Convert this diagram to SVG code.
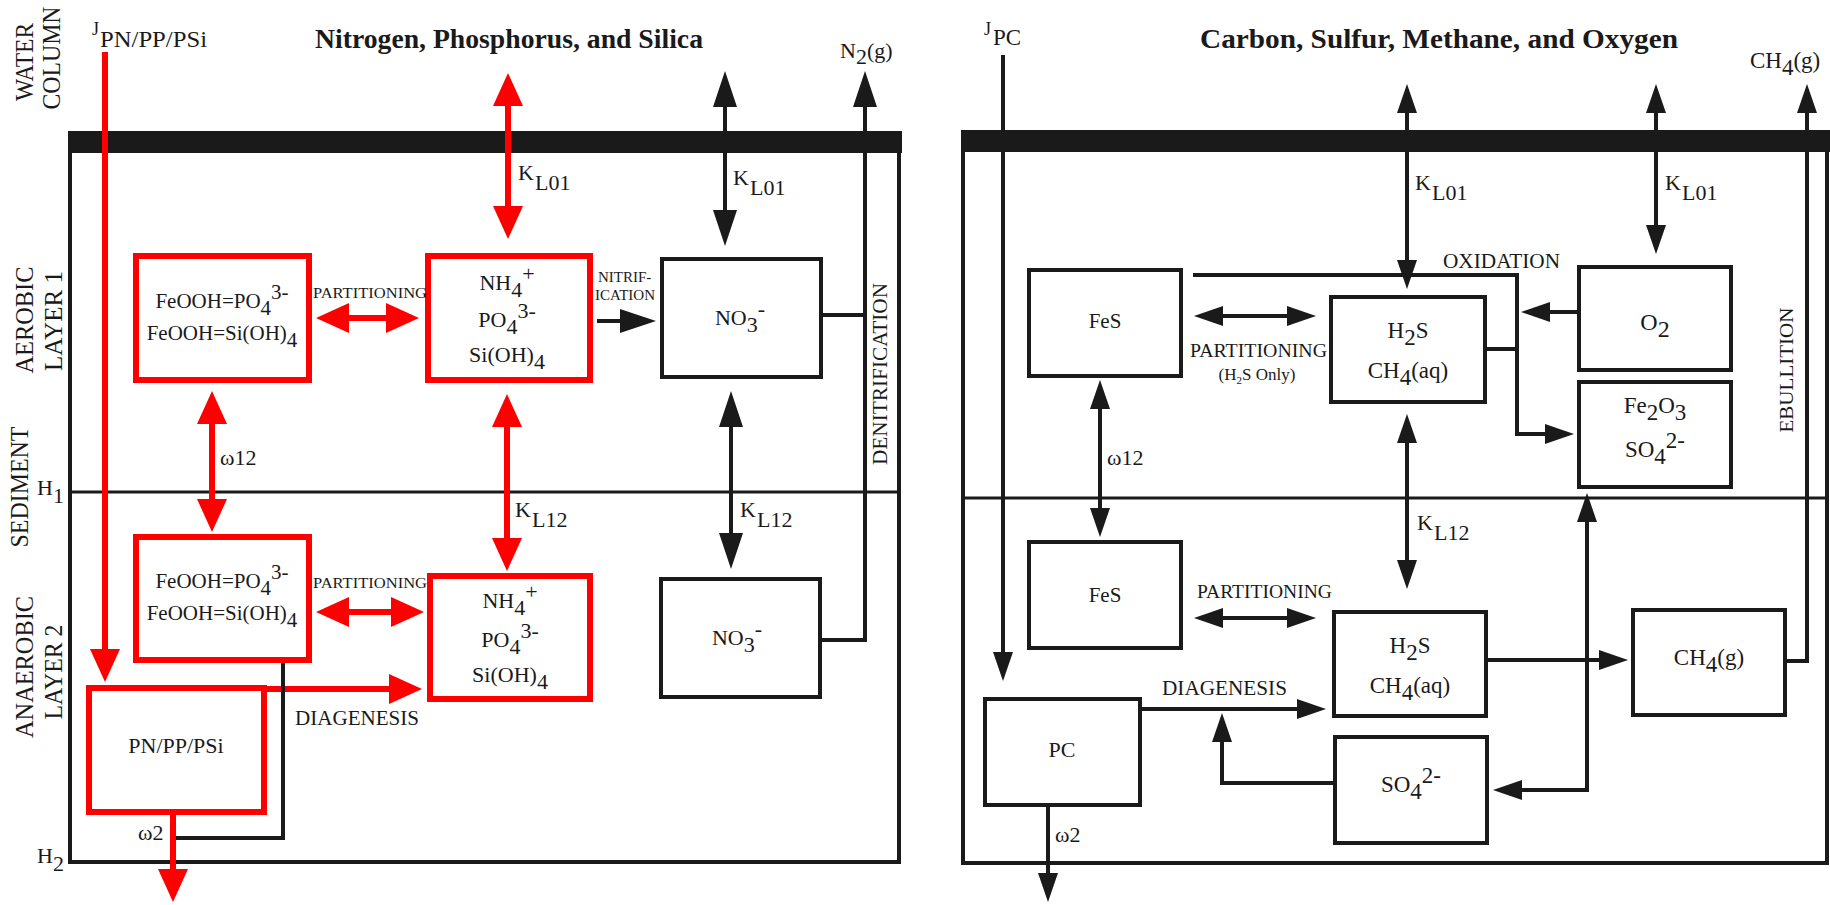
<svg xmlns="http://www.w3.org/2000/svg" width="1830" height="905" viewBox="0 0 1830 905" font-family="'Liberation Serif', 'DejaVu Serif', serif">
<style>
text{font-family:'Liberation Serif','DejaVu Serif',serif;fill:#1a1a1a}
.t{font-weight:bold;font-size:27px}
.side{font-size:25px}
.n{font-size:22px}
.s{font-size:15px}
.m{font-size:20px}
.frame{fill:none;stroke:#1a1a1a;stroke-width:4}
.thin{fill:none;stroke:#1a1a1a;stroke-width:3}
.bx{fill:#fff;stroke:#1a1a1a;stroke-width:4}
.rbx{fill:none;stroke:#ff0000;stroke-width:6}
.ibx{fill:#fff;stroke:#1a1a1a;stroke-width:2}
.r{fill:none;stroke:#ff0000;stroke-width:6}
.k{fill:none;stroke:#1a1a1a;stroke-width:4}
</style>
<defs>
<marker id="ar" markerUnits="userSpaceOnUse" markerWidth="34" markerHeight="30" refX="1" refY="15" orient="auto-start-reverse" viewBox="0 0 34 30"><path d="M0,0 L33,15 L0,30 z" fill="#ff0000"/></marker>
<marker id="ab" markerUnits="userSpaceOnUse" markerWidth="37" markerHeight="24" refX="1" refY="12" orient="auto-start-reverse" viewBox="0 0 37 24"><path d="M0,0 L36,12 L0,24 z" fill="#1a1a1a"/></marker>
<marker id="as" markerUnits="userSpaceOnUse" markerWidth="30" markerHeight="20" refX="1" refY="10" orient="auto-start-reverse" viewBox="0 0 30 20"><path d="M0,0 L29,10 L0,20 z" fill="#1a1a1a"/></marker>
</defs>
<rect width="1830" height="905" fill="#fff"/>

<!-- Left panel frame -->
<g id="frame-left">
<rect x="68" y="131" width="834" height="22" fill="#1a1a1a"/>
<path class="frame" d="M70,131 V862 H899 V131"/>
<path class="thin" d="M70,492 H899"/>
<text class="side" transform="translate(33,62) rotate(-90)" text-anchor="middle" textLength="78" lengthAdjust="spacingAndGlyphs">WATER</text>
<text class="side" transform="translate(60,58) rotate(-90)" text-anchor="middle" textLength="103" lengthAdjust="spacingAndGlyphs">COLUMN</text>
<text class="side" transform="translate(33,320) rotate(-90)" text-anchor="middle" textLength="107" lengthAdjust="spacingAndGlyphs">AEROBIC</text>
<text class="side" transform="translate(62,321) rotate(-90)" text-anchor="middle" textLength="100" lengthAdjust="spacingAndGlyphs">LAYER 1</text>
<text class="side" transform="translate(28,487) rotate(-90)" text-anchor="middle" textLength="121" lengthAdjust="spacingAndGlyphs">SEDIMENT</text>
<text class="side" transform="translate(33,667) rotate(-90)" text-anchor="middle" textLength="142" lengthAdjust="spacingAndGlyphs">ANAEROBIC</text>
<text class="side" transform="translate(62,672) rotate(-90)" text-anchor="middle" textLength="95" lengthAdjust="spacingAndGlyphs">LAYER 2</text>
<text class="n" x="37" y="495">H<tspan dy="8">1</tspan></text>
<text class="n" x="37" y="863">H<tspan dy="8">2</tspan></text>
<text class="t" x="315" y="48" textLength="388" lengthAdjust="spacingAndGlyphs">Nitrogen, Phosphorus, and Silica</text>
<text x="92" y="35" style="font-size:18px">J</text>
<text x="100" y="47" style="font-size:23px" textLength="107" lengthAdjust="spacingAndGlyphs">PN/PP/PSi</text>
<text class="n" x="840" y="58">N<tspan dy="6">2</tspan><tspan dy="-6">(g)</tspan></text>
<text class="m" transform="translate(887,374) rotate(-90)" text-anchor="middle" textLength="182" lengthAdjust="spacingAndGlyphs">DENITRIFICATION</text>
</g>

<!-- Left panel nodes -->
<g id="feooh1">
<rect class="ibx" x="138" y="258" width="169" height="120"/>
<rect class="rbx" x="136" y="256" width="173" height="124"/>
<text style="font-size:21px" x="222" y="308" text-anchor="middle">FeOOH=PO<tspan dy="7">4</tspan><tspan dy="-16">3-</tspan></text>
<text style="font-size:21px" x="222" y="340" text-anchor="middle">FeOOH=Si(OH)<tspan dy="7">4</tspan></text>
</g>
<g id="nh4-1">
<rect class="ibx" x="430" y="258" width="158" height="120"/>
<rect class="rbx" x="428" y="256" width="162" height="124"/>
<text class="n" x="507" y="290" text-anchor="middle">NH<tspan dy="7">4</tspan><tspan dy="-16">+</tspan></text>
<text class="n" x="507" y="327" text-anchor="middle">PO<tspan dy="7">4</tspan><tspan dy="-16">3-</tspan></text>
<text class="n" x="507" y="362" text-anchor="middle">Si(OH)<tspan dy="7">4</tspan></text>
</g>
<g id="no3-1">
<rect class="bx" x="662" y="259" width="159" height="118"/>
<text class="n" x="740" y="325" text-anchor="middle">NO<tspan dy="7">3</tspan><tspan dy="-16">-</tspan></text>
</g>
<g id="feooh2">
<rect class="ibx" x="138" y="539" width="169" height="119"/>
<rect class="rbx" x="136" y="537" width="173" height="123"/>
<text style="font-size:21px" x="222" y="588" text-anchor="middle">FeOOH=PO<tspan dy="7">4</tspan><tspan dy="-16">3-</tspan></text>
<text style="font-size:21px" x="222" y="620" text-anchor="middle">FeOOH=Si(OH)<tspan dy="7">4</tspan></text>
</g>
<g id="nh4-2">
<rect class="ibx" x="432" y="578" width="156" height="119"/>
<rect class="rbx" x="430" y="576" width="160" height="123"/>
<text class="n" x="510" y="608" text-anchor="middle">NH<tspan dy="7">4</tspan><tspan dy="-16">+</tspan></text>
<text class="n" x="510" y="647" text-anchor="middle">PO<tspan dy="7">4</tspan><tspan dy="-16">3-</tspan></text>
<text class="n" x="510" y="682" text-anchor="middle">Si(OH)<tspan dy="7">4</tspan></text>
</g>
<g id="no3-2">
<rect class="bx" x="661" y="579" width="159" height="118"/>
<text class="n" x="737" y="645" text-anchor="middle">NO<tspan dy="7">3</tspan><tspan dy="-16">-</tspan></text>
</g>
<g id="pn-pp-psi">
<rect class="ibx" x="91" y="690" width="171" height="120"/>
<rect class="rbx" x="89" y="688" width="175" height="124"/>
<text class="n" x="176" y="753" text-anchor="middle">PN/PP/PSi</text>
</g>

<!-- Right panel frame -->
<g id="frame-right">
<rect x="961" y="130" width="869" height="22" fill="#1a1a1a"/>
<path class="frame" d="M963,130 V863 H1827 V130"/>
<path class="thin" d="M963,498 H1827"/>
<text class="t" x="1200" y="48" textLength="478" lengthAdjust="spacingAndGlyphs">Carbon, Sulfur, Methane, and Oxygen</text>
<text x="984" y="35" style="font-size:18px">J</text>
<text x="993" y="45" style="font-size:23px">PC</text>
<text x="1750" y="68" style="font-size:23px">CH<tspan dy="7">4</tspan><tspan dy="-7">(g)</tspan></text>
<text style="font-size:18px" transform="translate(1793,370) rotate(-90)" text-anchor="middle" textLength="125" lengthAdjust="spacingAndGlyphs">EBULLITION</text>
</g>

<!-- Right panel nodes -->
<g id="fes1">
<rect class="bx" x="1029" y="270" width="152" height="106"/>
<text style="font-size:21px" x="1105" y="328" text-anchor="middle">FeS</text>
</g>
<g id="h2s-1">
<rect class="bx" x="1331" y="297" width="154" height="105"/>
<text style="font-size:23px" x="1408" y="338" text-anchor="middle">H<tspan dy="7">2</tspan><tspan dy="-7">S</tspan></text>
<text style="font-size:23px" x="1408" y="378" text-anchor="middle">CH<tspan dy="7">4</tspan><tspan dy="-7">(aq)</tspan></text>
</g>
<g id="o2">
<rect class="bx" x="1579" y="267" width="152" height="103"/>
<text style="font-size:24px" x="1655" y="330" text-anchor="middle">O<tspan dy="7">2</tspan></text>
</g>
<g id="fe2o3-so4">
<rect class="bx" x="1579" y="382" width="152" height="105"/>
<text style="font-size:23px" x="1655" y="413" text-anchor="middle">Fe<tspan dy="7">2</tspan><tspan dy="-7">O</tspan><tspan dy="7">3</tspan></text>
<text style="font-size:23px" x="1655" y="457" text-anchor="middle">SO<tspan dy="7">4</tspan><tspan dy="-16">2-</tspan></text>
</g>
<g id="fes2">
<rect class="bx" x="1029" y="542" width="152" height="106"/>
<text style="font-size:21px" x="1105" y="602" text-anchor="middle">FeS</text>
</g>
<g id="h2s-2">
<rect class="bx" x="1334" y="612" width="152" height="104"/>
<text style="font-size:23px" x="1410" y="653" text-anchor="middle">H<tspan dy="7">2</tspan><tspan dy="-7">S</tspan></text>
<text style="font-size:23px" x="1410" y="693" text-anchor="middle">CH<tspan dy="7">4</tspan><tspan dy="-7">(aq)</tspan></text>
</g>
<g id="ch4g">
<rect class="bx" x="1633" y="610" width="152" height="105"/>
<text style="font-size:23px" x="1709" y="665" text-anchor="middle">CH<tspan dy="7">4</tspan><tspan dy="-7">(g)</tspan></text>
</g>
<g id="pc">
<rect class="bx" x="985" y="699" width="155" height="106"/>
<text class="n" x="1062" y="757" text-anchor="middle">PC</text>
</g>
<g id="so4">
<rect class="bx" x="1335" y="737" width="152" height="106"/>
<text style="font-size:23px" x="1411" y="792" text-anchor="middle">SO<tspan dy="7">4</tspan><tspan dy="-16">2-</tspan></text>
</g>

<!-- Connectors -->
<g id="connectors">
<path class="r" d="M105,52 V650" marker-end="url(#ar)"/>
<path class="r" d="M508,105 V207" marker-start="url(#ar)" marker-end="url(#ar)"/>
<path class="r" d="M348,318 H387" marker-start="url(#ar)" marker-end="url(#ar)"/>
<path class="r" d="M348,612 H392" marker-start="url(#ar)" marker-end="url(#ar)"/>
<path class="r" d="M212,423 V500" marker-start="url(#ar)" marker-end="url(#ar)"/>
<path class="r" d="M507,426 V539" marker-start="url(#ar)" marker-end="url(#ar)"/>
<path class="r" d="M264,689 H390" marker-end="url(#ar)"/>
<path class="r" d="M173,815 V870" marker-end="url(#ar)"/>
<path class="k" d="M597,321 H621" marker-end="url(#ab)"/>
<path class="k" d="M725,106 V211" marker-start="url(#ab)" marker-end="url(#ab)"/>
<path class="k" d="M731,426 V534" marker-start="url(#ab)" marker-end="url(#ab)"/>
<path class="k" d="M822,640 H865 V106" marker-end="url(#ab)"/>
<path class="k" d="M823,315 H865"/>
<path class="k" d="M283,663 V838 H176"/>
<text class="n" x="518" y="180">K<tspan x="535" y="190">L01</tspan></text>
<text class="n" x="733" y="185">K<tspan x="750" y="195">L01</tspan></text>
<text class="n" x="515" y="517">K<tspan x="532" y="527">L12</tspan></text>
<text class="n" x="740" y="517">K<tspan x="757" y="527">L12</tspan></text>
<text class="n" x="220" y="465">ω12</text>
<text class="n" x="138" y="840">ω2</text>
<text class="s" x="313" y="298" textLength="114" lengthAdjust="spacingAndGlyphs">PARTITIONING</text>
<text class="s" x="313" y="588" textLength="114" lengthAdjust="spacingAndGlyphs">PARTITIONING</text>
<text class="s" x="598" y="282">NITRIF-</text>
<text class="s" x="595" y="300">ICATION</text>
<text class="m" x="295" y="725" textLength="124" lengthAdjust="spacingAndGlyphs">DIAGENESIS</text>
<path class="k" d="M1003,55 V653" marker-end="url(#as)"/>
<path class="k" d="M1407,112 V261" marker-start="url(#as)" marker-end="url(#as)"/>
<path class="k" d="M1656,112 V226" marker-start="url(#as)" marker-end="url(#as)"/>
<path class="k" d="M1787,661 H1807 V112" marker-end="url(#as)"/>
<path class="k" d="M1222,316 H1288" marker-start="url(#as)" marker-end="url(#as)"/>
<path class="k" d="M1222,618 H1288" marker-start="url(#as)" marker-end="url(#as)"/>
<path class="k" d="M1100,408 V509" marker-start="url(#as)" marker-end="url(#as)"/>
<path class="k" d="M1193,275 H1517 V434 H1546" marker-end="url(#as)"/>
<path class="k" d="M1487,349 H1517"/>
<path class="k" d="M1577,312 H1549" marker-end="url(#as)"/>
<path class="k" d="M1407,442 V561" marker-start="url(#as)" marker-end="url(#as)"/>
<path class="k" d="M1488,660 H1600" marker-end="url(#as)"/>
<path class="k" d="M1587,521 V790 H1521" marker-start="url(#as)" marker-end="url(#as)"/>
<path class="k" d="M1142,709 H1298" marker-end="url(#as)"/>
<path class="k" d="M1333,783 H1222 V741" marker-end="url(#as)"/>
<path class="k" d="M1048,807 V874" marker-end="url(#as)"/>
<text class="n" x="1415" y="190">K<tspan x="1432" y="200">L01</tspan></text>
<text class="n" x="1665" y="190">K<tspan x="1682" y="200">L01</tspan></text>
<text class="n" x="1417" y="530">K<tspan x="1434" y="540">L12</tspan></text>
<text class="n" x="1107" y="465">ω12</text>
<text class="n" x="1055" y="842">ω2</text>
<text style="font-size:18px" x="1190" y="357" textLength="137" lengthAdjust="spacingAndGlyphs">PARTITIONING</text>
<text style="font-size:17px" x="1257" y="380" text-anchor="middle">(H<tspan dy="4" style="font-size:11px">2</tspan><tspan dy="-4">S Only)</tspan></text>
<text style="font-size:18px" x="1197" y="598" textLength="135" lengthAdjust="spacingAndGlyphs">PARTITIONING</text>
<text style="font-size:20px" x="1443" y="268" textLength="117" lengthAdjust="spacingAndGlyphs">OXIDATION</text>
<text style="font-size:20px" x="1162" y="695" textLength="125" lengthAdjust="spacingAndGlyphs">DIAGENESIS</text>
</g>
</svg>
